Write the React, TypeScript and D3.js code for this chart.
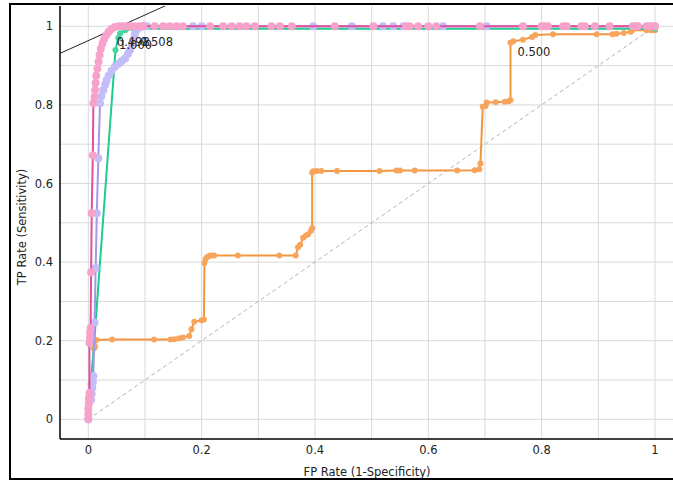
import React from "react";
import * as d3 from "d3";

// ---- data ----
const xTicks = [0, 0.2, 0.4, 0.6, 0.8, 1];
const yTicks = [0, 0.2, 0.4, 0.6, 0.8, 1];
const gridValues = [0, 0.1, 0.2, 0.3, 0.4, 0.5, 0.6, 0.7, 0.8, 0.9, 1];

const orangeFpr = [0, 0.004, 0.01, 0.012, 0.014, 0.042, 0.116, 0.145, 0.152, 0.16, 0.167, 0.178, 0.182, 0.187, 0.2, 0.204, 0.205, 0.207, 0.21, 0.214, 0.218, 0.222, 0.264, 0.337, 0.366, 0.37, 0.374, 0.379, 0.384, 0.388, 0.393, 0.395, 0.395, 0.397, 0.403, 0.411, 0.439, 0.514, 0.544, 0.55, 0.576, 0.651, 0.682, 0.69, 0.692, 0.696, 0.701, 0.703, 0.719, 0.735, 0.742, 0.745, 0.745, 0.75, 0.767, 0.783, 0.789, 0.82, 0.897, 0.925, 0.932, 0.945, 0.957, 0.96, 0.985, 0.993, 1, 1];
const orangeTpr = [0, 0.09, 0.18, 0.185, 0.202, 0.203, 0.203, 0.203, 0.204, 0.206, 0.208, 0.212, 0.229, 0.248, 0.252, 0.254, 0.398, 0.408, 0.413, 0.416, 0.417, 0.417, 0.417, 0.417, 0.417, 0.438, 0.444, 0.462, 0.468, 0.471, 0.48, 0.486, 0.628, 0.631, 0.632, 0.632, 0.632, 0.632, 0.633, 0.633, 0.633, 0.633, 0.634, 0.636, 0.651, 0.795, 0.797, 0.806, 0.807, 0.808, 0.809, 0.812, 0.958, 0.962, 0.966, 0.973, 0.978, 0.98, 0.98, 0.98, 0.981, 0.983, 0.986, 0.99, 0.99, 0.99, 0.99, 1];

const greenFpr = [0, 0.003, 0.048, 0.053, 0.056, 0.065, 0.08, 1, 1];
const greenTpr = [0, 0.05, 0.94, 0.97, 0.982, 0.99, 0.994, 0.994, 1];

const lavenderFpr = [0, 0.005, 0.006, 0.007, 0.008, 0.009, 0.011, 0.013, 0.015, 0.0177, 0.0206, 0.023, 0.0265, 0.03, 0.0324, 0.036, 0.041, 0.047, 0.053, 0.059, 0.065, 0.07, 0.0735, 0.077, 0.079, 0.082, 0.085, 0.09, 0.097, 0.103, 0.185, 0.2, 0.397, 0.465, 0.52, 0.538, 0.556, 0.626, 0.703, 1];
const lavenderTpr = [0, 0.05, 0.065, 0.08, 0.095, 0.11, 0.246, 0.385, 0.524, 0.664, 0.804, 0.822, 0.838, 0.852, 0.863, 0.875, 0.887, 0.897, 0.905, 0.912, 0.918, 0.93, 0.94, 0.954, 0.966, 0.979, 0.99, 0.997, 1, 1, 1, 1, 1, 1, 1, 1, 1, 1, 1, 1];

const pinkFpr = [0, 0, 0, 0.001, 0.001, 0.002, 0.002, 0.003, 0.003, 0.004, 0.005, 0.006, 0.008, 0.009, 0.011, 0.012, 0.013, 0.014, 0.016, 0.018, 0.02, 0.022, 0.025, 0.028, 0.032, 0.036, 0.041, 0.047, 0.054, 0.061, 0.068, 0.075, 0.082, 0.09, 0.097, 0.117, 0.132, 0.144, 0.156, 0.167, 0.215, 0.238, 0.253, 0.267, 0.279, 0.294, 0.323, 0.338, 0.359, 0.435, 0.503, 0.561, 0.567, 0.582, 0.6, 0.614, 0.691, 0.767, 0.8, 0.806, 0.811, 0.838, 0.844, 0.87, 0.876, 0.894, 0.92, 0.961, 0.966, 0.97, 0.985, 0.99, 0.995, 1];
const pinkTpr = [0, 0.013, 0.027, 0.04, 0.053, 0.067, 0.195, 0.207, 0.22, 0.232, 0.374, 0.524, 0.672, 0.804, 0.82, 0.838, 0.856, 0.874, 0.892, 0.91, 0.927, 0.943, 0.956, 0.968, 0.978, 0.986, 0.993, 0.998, 1, 1, 1, 1, 1, 1, 1, 1, 1, 1, 1, 1, 1, 1, 1, 1, 1, 1, 1, 1, 1, 1, 1, 1, 1, 1, 1, 1, 1, 1, 1, 1, 1, 1, 1, 1, 1, 1, 1, 1, 1, 1, 1, 1, 1, 1];

const thresholdTexts = ["0.498", "0.508", "1.000", "0.500"];
const thresholdFpr = [0.038, 0.079, 0.042, 0.745];
const thresholdTpr = [0.986, 0.986, 0.978, 0.96];

const isoLineFpr = [-0.05, 0.14];
const isoLineTpr = [0.931, 0.931 + 0.652 * 0.19];

const xTitle = "FP Rate (1-Specificity)";
const yTitle = "TP Rate (Sensitivity)";

// ---- layout ----
const W = 673;
const H = 481;
const plotLeft = 60;
const plotTop = 6;
const plotRight = 675;
const plotBottom = 439;
const FONT = "DejaVu Sans, Verdana, sans-serif";

const x = d3.scaleLinear().domain([0, 1]).range([88.3, 655]);
const y = d3.scaleLinear().domain([0, 1]).range([419.3, 26.3]);

type Series = { fpr: number[]; tpr: number[]; line: string; fill: string; r: number };

const seriesList: Series[] = [
  { fpr: orangeFpr, tpr: orangeTpr, line: "#f4953f", fill: "#f7a55c", r: 3 },
  { fpr: greenFpr, tpr: greenTpr, line: "#1fcb8f", fill: "#3fd6a0", r: 3 },
  { fpr: lavenderFpr, tpr: lavenderTpr, line: "#a299ee", fill: "#c3bdf8", r: 4 },
  { fpr: pinkFpr, tpr: pinkTpr, line: "#e0509c", fill: "#f6a2cb", r: 4 },
];

export default function App() {
  const mkPath = (s: Series) =>
    d3
      .line<number>()
      .x((i) => x(s.fpr[i]))
      .y((i) => y(s.tpr[i]))(s.fpr.map((_, i) => i)) || "";

  return (
    <svg
      width={W}
      height={H}
      style={{ position: "absolute", left: 0, top: 0, background: "#fff" }}
      fontFamily={FONT}
    >
      <defs>
        <clipPath id="plotClip">
          <rect x={plotLeft} y={plotTop} width={plotRight - plotLeft} height={plotBottom - plotTop} />
        </clipPath>
      </defs>
      <rect x={0} y={0} width={W} height={H} fill="#fff" />
      {/* grid */}
      <g stroke="#d9d9d9" strokeWidth={1}>
        {gridValues.map((v) => (
          <line key={"gx" + v} x1={x(v)} x2={x(v)} y1={plotTop} y2={plotBottom} />
        ))}
        {gridValues.map((v) => (
          <line key={"gy" + v} x1={plotLeft} x2={plotRight} y1={y(v)} y2={y(v)} />
        ))}
      </g>
      <g clipPath="url(#plotClip)">
        {/* diagonal */}
        <line x1={x(0)} y1={y(0)} x2={x(1)} y2={y(1)} stroke="#b4b4b4" strokeWidth={1} strokeDasharray="4,3" />
        {/* iso-performance line */}
        <line
          x1={x(isoLineFpr[0])}
          y1={y(isoLineTpr[0])}
          x2={x(isoLineFpr[1])}
          y2={y(isoLineTpr[1])}
          stroke="#222"
          strokeWidth={1}
        />
        {seriesList.map((s, k) => (
          <g key={"s" + k}>
            <path d={mkPath(s)} fill="none" stroke={s.line} strokeWidth={2} />
            {s.fpr.map((f, i) => (
              <circle key={i} cx={x(f)} cy={y(s.tpr[i])} r={s.r} fill={s.fill} stroke="none" />
            ))}
          </g>
        ))}
        {thresholdTexts.map((t, i) => (
          <text
            key={"t" + i}
            x={x(thresholdFpr[i]) + 7}
            y={y(thresholdTpr[i]) + 14}
            fontSize={11.5}
            fill="#222"
          >
            {t}
          </text>
        ))}
      </g>
      {/* axes */}
      <line x1={plotLeft} x2={plotLeft} y1={plotTop} y2={plotBottom} stroke="#000" strokeWidth={1.5} />
      <line x1={plotLeft} x2={plotRight} y1={plotBottom} y2={plotBottom} stroke="#000" strokeWidth={1.5} />
      {xTicks.map((v) => (
        <text key={"xt" + v} x={x(v)} y={454} textAnchor="middle" fontSize={11.5} fill="#222">
          {d3.format("~g")(v)}
        </text>
      ))}
      {yTicks.map((v) => (
        <text key={"yt" + v} x={53} y={y(v) + 4} textAnchor="end" fontSize={11.5} fill="#222">
          {d3.format("~g")(v)}
        </text>
      ))}
      <text x={367} y={476} textAnchor="middle" fontSize={11.5} fill="#222">
        {xTitle}
      </text>
      <text
        transform={`translate(26,227) rotate(-90)`}
        textAnchor="middle"
        fontSize={11.5}
        fill="#222"
      >
        {yTitle}
      </text>
      {/* outer frame */}
      <rect x={10} y={4} width={680} height={475} fill="none" stroke="#000" strokeWidth={2} />
    </svg>
  );
}
